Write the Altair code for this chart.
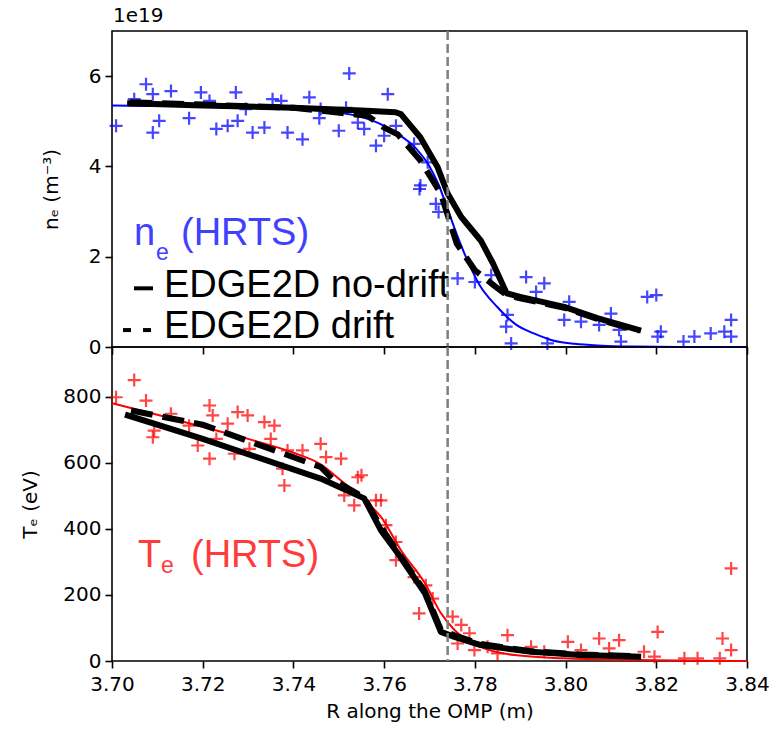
import altair as alt
import pandas as pd

# ---------------- data ----------------
XTICKS = [3.70, 3.72, 3.74, 3.76, 3.78, 3.80, 3.82, 3.84]
SEP_R = [3.774]

# HRTS density points (units of 1e19 m^-3)
ne_R = [3.7009, 3.7049, 3.7075, 3.709, 3.709, 3.7104, 3.713, 3.717, 3.7196, 3.7215,
        3.723, 3.7255, 3.7273, 3.7277, 3.7295, 3.731, 3.7336, 3.7354, 3.7373, 3.7387,
        3.742, 3.7435, 3.746, 3.7457, 3.750, 3.7523, 3.7516, 3.7542, 3.7556, 3.7582,
        3.7608, 3.760, 3.7626, 3.768, 3.7666, 3.7696, 3.7678, 3.7714, 3.772, 3.7762,
        3.780, 3.7836, 3.7872, 3.7869, 3.788, 3.7913, 3.7935, 3.7953, 3.796, 3.7997,
        3.8008, 3.8034, 3.8074, 3.810, 3.8118, 3.8122, 3.818, 3.820, 3.821, 3.8203,
        3.826, 3.8284, 3.832, 3.835, 3.8365, 3.8365]
ne_val = [4.90, 5.49, 5.82, 5.60, 4.75, 5.01, 5.67, 5.07, 5.64, 5.45,
          4.83, 4.90, 5.64, 5.01, 5.27, 4.75, 4.86, 5.49, 5.45, 4.75,
          4.60, 5.53, 5.27, 5.07, 4.79, 6.06, 5.30, 4.97, 4.83, 4.46,
          5.60, 4.68, 4.90, 3.58, 4.50, 4.09, 3.50, 3.17, 2.99, 1.52,
          1.44, 1.59, 0.71, 0.45, 0.08, 1.55, 1.22, 1.41, 0.08, 0.60,
          1.00, 0.56, 0.49, 0.74, 0.38, 0.12, 1.11, 1.15, 0.34, 0.23,
          0.12, 0.23, 0.30, 0.34, 0.60, 0.23]

# HRTS density fit
fit_ne_R = [3.700, 3.710, 3.720, 3.730, 3.740, 3.748, 3.754, 3.759, 3.763, 3.767,
            3.770, 3.772, 3.774, 3.776, 3.778, 3.781, 3.785, 3.789, 3.793, 3.797,
            3.802, 3.808, 3.815, 3.825, 3.840]
fit_ne = [5.35, 5.34, 5.33, 5.31, 5.28, 5.22, 5.12, 4.95, 4.72, 4.40,
          4.00, 3.60, 3.05, 2.50, 2.00, 1.38, 0.88, 0.50, 0.30, 0.15,
          0.07, 0.03, 0.01, 0.0, 0.0]

# EDGE2D density
nd_ne_R = [3.704, 3.720, 3.740, 3.755, 3.7625, 3.7637, 3.768, 3.7718, 3.774, 3.777,
           3.7813, 3.784, 3.787, 3.790, 3.7997, 3.807, 3.816]
nd_ne = [5.40, 5.35, 5.30, 5.24, 5.20, 5.16, 4.64, 3.98, 3.40, 2.88,
         2.36, 1.85, 1.19, 1.11, 0.89, 0.64, 0.38]
dr_ne_R = [3.704, 3.720, 3.740, 3.7564, 3.760, 3.763, 3.768, 3.7725, 3.776, 3.780,
           3.7846, 3.787, 3.790, 3.800, 3.807, 3.816]
dr_ne = [5.42, 5.37, 5.30, 5.12, 4.86, 4.71, 4.13, 3.40, 2.29, 1.70,
         1.33, 1.15, 1.08, 0.86, 0.62, 0.36]

# HRTS temperature points (eV)
te_R = [3.7009, 3.7049, 3.7075, 3.7093, 3.709, 3.713, 3.717, 3.7189, 3.7215, 3.7222,
        3.7215, 3.7255, 3.723, 3.727, 3.7277, 3.7299, 3.7303, 3.7336, 3.7358, 3.735,
        3.7376, 3.738, 3.7387, 3.742, 3.746, 3.7472, 3.7505, 3.7542, 3.755, 3.7512,
        3.7534, 3.7582, 3.7593, 3.7604, 3.7626, 3.7626, 3.7666, 3.7692, 3.7707, 3.7677,
        3.7751, 3.777, 3.7788, 3.7762, 3.7799, 3.7828, 3.7872, 3.785, 3.7924, 3.7953,
        3.8005, 3.8034, 3.8074, 3.8096, 3.8118, 3.8173, 3.8203, 3.8196, 3.8262, 3.8291,
        3.8346, 3.8365, 3.8365, 3.834]
te_val = [798, 850, 788, 697, 677, 748, 712, 652, 773, 743,
          612, 718, 672, 627, 753, 743, 642, 723, 712, 672,
          582, 531, 637, 637, 657, 617, 612, 556, 562, 501,
          471, 486, 486, 411, 360, 305, 254, 229, 189, 144,
          134, 109, 84, 53, 33, 43, 78, 23, 43, 28,
          58, 33, 68, 38, 63, 28, 88, 13, 8, 8,
          68, 33, 280, 8]

# HRTS temperature fit
fit_te_R = [3.700, 3.710, 3.720, 3.730, 3.740, 3.746, 3.7505, 3.7556, 3.7593, 3.7637,
            3.769, 3.7725, 3.7755, 3.7813, 3.7887, 3.7997, 3.815, 3.840]
fit_te = [780, 745, 708, 672, 630, 595, 546, 486, 436, 335,
          235, 145, 94, 43, 18, 8, 3, 0]

# EDGE2D temperature
nd_te_R = [3.7035, 3.720, 3.746, 3.7556, 3.7593, 3.763, 3.769, 3.7725, 3.7755, 3.7813,
           3.7924, 3.8034, 3.816]
nd_te = [743, 672, 552, 492, 395, 326, 205, 88, 73, 48, 28, 18, 13]
dr_te_R = [3.7042, 3.720, 3.746, 3.749, 3.7556, 3.7593, 3.763, 3.769, 3.7725, 3.7755,
           3.781, 3.792, 3.803, 3.816]
dr_te = [758, 715, 587, 546, 495, 405, 330, 210, 95, 78, 52, 30, 20, 14]

# annotations
top_txt = ["n", "e", "(HRTS)", "EDGE2D no-drift", "EDGE2D drift"]
top_txt_R = [3.70485, 3.7097, 3.71521, 3.71146, 3.71146]
top_txt_v = [2.25, 1.92, 2.25, 1.104, 0.199]
top_txt_size = [38, 23, 38, 38, 38]
top_txt_col = ["#4040ff", "#4040ff", "#4040ff", "black", "black"]

bot_txt = ["T", "e", "(HRTS)"]
bot_txt_R = [3.70573, 3.7108, 3.71742]
bot_txt_v = [283.8, 265.7, 283.8]
bot_txt_size = [38, 23, 38]
bot_txt_col = ["#ff3b3b", "#ff3b3b", "#ff3b3b"]

leg_R = [3.70485, 3.70243, 3.70683]
leg_R2 = [3.70904, 3.70419, 3.7086]
leg_v = [1.30, 0.375, 0.375]

# ---------------- chart ----------------
FONT = "DejaVu Sans"
ANN_FONT = "Liberation Sans"
PLUS = "M-1,0L1,0M0,-1L0,1"
W, H_TOP, H_BOT = 635, 316, 314


def df(R, v):
    return pd.DataFrame({"R": R, "v": v})


xs = alt.Scale(domain=[3.70, 3.84], nice=False, zero=False)
x_top = alt.X("R:Q", scale=xs, axis=alt.Axis(values=XTICKS, labels=False, title=None))
x_bot = alt.X("R:Q", scale=xs, axis=alt.Axis(values=XTICKS, format=".2f", labelPadding=6,
                                              title="R along the OMP (m)", titlePadding=7))
y_top = alt.Y("v:Q", scale=alt.Scale(domain=[0, 7], nice=False, zero=False),
              axis=alt.Axis(values=[0, 2, 4, 6], title="nₑ (m⁻³)", titleX=-61, titleY=H_TOP / 2,
                            titleBaseline="middle", titleAlign="center", titleAngle=270))
y_bot = alt.Y("v:Q", scale=alt.Scale(domain=[0, 950], nice=False, zero=False),
              axis=alt.Axis(values=[0, 200, 400, 600, 800], title="Tₑ (eV)", titleX=-82,
                            titleY=H_BOT / 2, titleBaseline="middle", titleAlign="center",
                            titleAngle=270))


def panel(x, y, pR, pv, pcol, fR, fv, fcol, nR, nv, dR, dv, tdf, h, extra=None):
    pts = alt.Chart(df(pR, pv)).mark_point(shape=PLUS, size=169, filled=False, strokeWidth=2.2,
                                           color=pcol, opacity=0.72).encode(x=x, y=y)
    fit = alt.Chart(df(fR, fv)).mark_line(color=fcol, strokeWidth=2,
                                          interpolate="monotone").encode(x=x, y=y)
    nd = alt.Chart(df(nR, nv)).mark_line(color="black", strokeWidth=6, strokeJoin="round",
                                         strokeCap="square").encode(x=x, y=y)
    dr = alt.Chart(df(dR, dv)).mark_line(color="black", strokeWidth=6, strokeDash=[22, 10],
                                         strokeCap="butt", strokeJoin="round").encode(x=x, y=y)
    txt = alt.Chart(tdf).mark_text(font=ANN_FONT, align="left", baseline="alphabetic").encode(
        x=x, y=y, text="txt:N", size=alt.Size("size:Q", scale=None, legend=None),
        color=alt.Color("col:N", scale=None, legend=None))
    vl = alt.Chart(pd.DataFrame({"R": SEP_R})).mark_rule(
        color="#7f7f7f", strokeWidth=2.5, strokeDash=[9, 4]).encode(x=x)
    layers = [pts, fit, nd, dr, txt]
    if extra is not None:
        layers += extra
    layers.append(vl)
    return alt.layer(*layers).properties(width=W, height=h)


top_tdf = pd.DataFrame({"R": top_txt_R, "v": top_txt_v, "txt": top_txt,
                        "size": top_txt_size, "col": top_txt_col})
bot_tdf = pd.DataFrame({"R": bot_txt_R, "v": bot_txt_v, "txt": bot_txt,
                        "size": bot_txt_size, "col": bot_txt_col})

leg = alt.Chart(pd.DataFrame({"R": leg_R, "R2": leg_R2, "v": leg_v})).mark_rule(
    color="black", strokeWidth=4).encode(x=x_top, x2="R2", y=y_top)
offset_txt = alt.Chart(pd.DataFrame({"t": ["1e19"]})).mark_text(
    font=FONT, fontSize=20, align="left", baseline="alphabetic", color="black").encode(
    x=alt.value(1), y=alt.value(-9), text="t:N")

top = panel(x_top, y_top, ne_R, ne_val, "blue", fit_ne_R, fit_ne, "blue",
            nd_ne_R, nd_ne, dr_ne_R, dr_ne, top_tdf, H_TOP, extra=[leg, offset_txt])
bot = panel(x_bot, y_bot, te_R, te_val, "red", fit_te_R, fit_te, "red",
            nd_te_R, nd_te, dr_te_R, dr_te, bot_tdf, H_BOT)

chart = alt.vconcat(top, bot, spacing=0, bounds="flush").resolve_scale(y="independent").properties(
    padding={"left": 19, "top": 5, "right": 5, "bottom": 5}
).configure_view(stroke="black", strokeWidth=1.6).configure_axis(
    domain=False, grid=False, tickColor="black", tickSize=7, tickWidth=1.6,
    labelFont=FONT, labelFontSize=20, labelColor="black", labelPadding=4, labelFlush=False,
    titleFont=FONT, titleFontSize=20, titleFontWeight="normal", titleColor="black")

chart.save("out.html", embed_options={"renderer": "svg", "actions": False})
